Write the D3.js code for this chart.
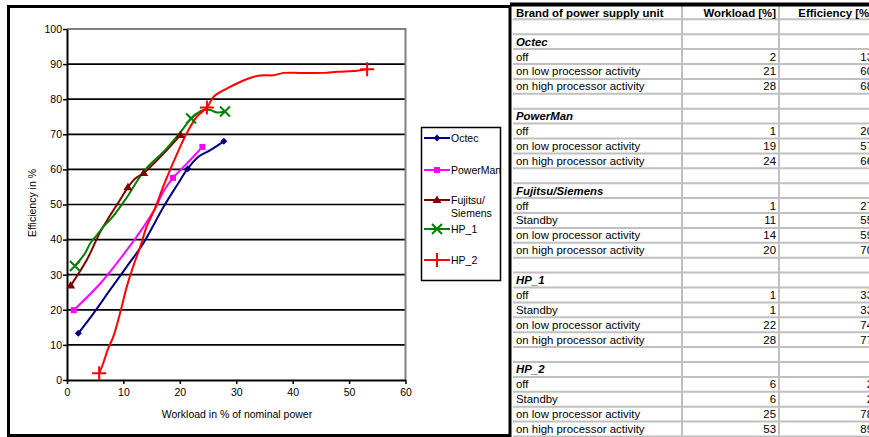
<!DOCTYPE html>
<html><head><meta charset="utf-8">
<script src="https://cdn.jsdelivr.net/npm/d3@7"></script>
<style>body{margin:0;background:#fff;overflow:hidden} svg{display:block} text{font-family:"Liberation Sans",Arial,sans-serif}</style>
</head><body><svg id="c" width="869" height="437"></svg>
<script>
// ---- chart data ----
const seriesNames = ["Octec","PowerMan","Fujitsu/Siemens","HP_1","HP_2"];
const seriesColors = ["#000080","#ff00ff","#800000","#008000","#ff0000"];
const markerShapes = ["diamond","square","triangle","x","plus"];
const octecMarkers = [[2,13.3],[21.4,60.2],[27.8,68]];
const octecTrace = [[2,13.3],[4.7,19],[7.6,25.6],[10.6,32.3],[13.5,38.9],[17.1,49.3],[19.5,55.5],[21.4,60.2],[23.3,63.6],[25.4,65.5],[27.8,68]];
const powerManMarkers = [[1.2,19.9],[18.8,57.6],[24,66.4]];
const powerManTrace = [[1.2,19.9],[5.9,27.5],[10.6,37],[13.5,43.5],[15.5,48.5],[17.2,54],[18.8,57.6],[20.1,59.8],[22.4,63.6],[24,66.4]];
const fujitsuMarkers = [[0.65,26.9],[10.8,54.9],[13.6,59],[20.1,69.8]];
const fujitsuTrace = [[0.65,26.9],[3.5,34.2],[5.9,42.2],[7.5,46.5],[9.2,50.8],[10.8,54.9],[12.1,57.4],[13.6,59],[17.1,64.5],[20.1,69.8]];
const hp1Markers = [[1.4,32.5],[22,74.5],[28,76.5]];
const hp1Trace = [[1.4,32.5],[3.2,36.1],[4.1,38.9],[5.3,41.3],[6.7,44.1],[8.2,46.7],[10.3,51.3],[13.8,59.8],[17.4,65.5],[19.9,70.2],[22,74.5],[23,75.9],[24.2,76.9],[25.4,76.9],[26.6,76.2],[28,76.5]];
const hp2Markers = [[5.7,1.9],[24.8,77.6],[53.2,88.5]];
const hp2Trace = [[5.7,1.9],[6.4,4.7],[7.3,9],[8.2,12.3],[9.4,19],[10.6,26.6],[11.8,32.7],[13,38],[14.1,43.6],[15.6,48.9],[17.4,56.5],[19.8,65.5],[21.2,70.2],[23,75],[24.8,77.6],[26,80.7],[28.4,83.1],[30.7,84.9],[33.1,86.4],[34.8,86.8],[36.6,86.8],[38.4,87.5],[41.4,87.5],[45.5,87.5],[47.9,87.8],[51.4,88.1],[53.2,88.5]];
const xTicks = [0,10,20,30,40,50,60];
const yTicks = [0,10,20,30,40,50,60,70,80,90,100];
const xTitle = "Workload in % of nominal power";
const yTitle = "Efficiency in %";

// ---- table data ----
const tableHeaders = ["Brand of power supply unit","Workload [%]","Efficiency [%]"];
const tableLabels = ["","Octec","off","on low processor activity","on high processor activity","",
  "PowerMan","off","on low processor activity","on high processor activity","",
  "Fujitsu/Siemens","off","Standby","on low processor activity","on high processor activity","",
  "HP_1","off","Standby","on low processor activity","on high processor activity","",
  "HP_2","off","Standby","on low processor activity","on high processor activity"];
const tableWorkload = [null,null,2,21,28,null,null,1,19,24,null,null,1,11,14,20,null,null,1,1,22,28,null,null,6,6,25,53];
const tableEfficiency = [null,null,13,60,68,null,null,20,57,66,null,null,27,55,59,70,null,null,33,33,74,77,null,null,2,2,78,89];

const traces = [octecTrace,powerManTrace,fujitsuTrace,hp1Trace,hp2Trace];
const markers = [octecMarkers,powerManMarkers,fujitsuMarkers,hp1Markers,hp2Markers];

const svg = d3.select("#c");
svg.append("rect").attr("width",869).attr("height",437).attr("fill","#fff");

// ---- chart ----
const x = d3.scaleLinear().domain([0,60]).range([67,405.5]);
const y = d3.scaleLinear().domain([0,100]).range([380,29]);
const chartFont = 10.5;

const g = svg.append("g");
g.selectAll(".grid").data(yTicks.filter(d=>d>0 && d<100)).join("line")
  .attr("x1",x(0)).attr("x2",x(60)).attr("y1",d=>y(d)).attr("y2",d=>y(d))
  .attr("stroke","#000").attr("stroke-width",1.7);
g.append("path").attr("d",`M${x(0)},${y(100)}H${x(60)}V${y(0)}`)
  .attr("fill","none").attr("stroke","#808080").attr("stroke-width",2);

const xAxis = d3.axisBottom(x).tickValues(xTicks).tickSize(4).tickSizeOuter(0);
const yAxis = d3.axisLeft(y).tickValues(yTicks).tickSize(4).tickSizeOuter(0);
const gx = g.append("g").attr("transform",`translate(0,${y(0)})`).call(xAxis);
const gy = g.append("g").attr("transform",`translate(${x(0)},0)`).call(yAxis);
[gx,gy].forEach(a=>{
  a.select(".domain").attr("stroke","#000").attr("stroke-width",2);
  a.selectAll(".tick line").attr("stroke","#000").attr("stroke-width",1.5);
  a.selectAll(".tick text").attr("font-family","Liberation Sans, Arial, sans-serif").attr("font-size",chartFont).attr("fill","#000");
});
gx.selectAll(".tick text").attr("dy","0.71em").attr("y",9);
gy.selectAll(".tick text").attr("x",-5);

g.append("text").attr("x",237).attr("y",418).attr("text-anchor","middle").attr("font-size",chartFont).text(xTitle);
g.append("text").attr("transform","translate(36,203) rotate(-90)").attr("text-anchor","middle").attr("font-size",chartFont).text(yTitle);

const line = d3.line().x(d=>x(d[0])).y(d=>y(d[1])).curve(d3.curveCatmullRom.alpha(0.5));
traces.forEach((t,i)=>{
  g.append("path").attr("d",line(t)).attr("fill","none").attr("stroke",seriesColors[i]).attr("stroke-width",2);
});

function drawMarker(sel, shape, color, cx, cy){
  if(shape==="diamond"){
    sel.append("path").attr("d",`M${cx},${cy-3.5}L${cx+3.5},${cy}L${cx},${cy+3.5}L${cx-3.5},${cy}Z`).attr("fill",color);
  } else if(shape==="square"){
    sel.append("rect").attr("x",cx-3).attr("y",cy-3).attr("width",6).attr("height",6).attr("fill",color);
  } else if(shape==="triangle"){
    sel.append("path").attr("d",`M${cx},${cy-4.5}L${cx+4.5},${cy+3}L${cx-4.5},${cy+3}Z`).attr("fill",color);
  } else if(shape==="x"){
    sel.append("path").attr("d",`M${cx-5},${cy-5}L${cx+5},${cy+5}M${cx-5},${cy+5}L${cx+5},${cy-5}`).attr("stroke",color).attr("stroke-width",2);
  } else if(shape==="plus"){
    sel.append("path").attr("d",`M${cx-7},${cy}H${cx+7}M${cx},${cy-7}V${cy+7}`).attr("stroke",color).attr("stroke-width",2);
  }
}
markers.forEach((ms,i)=>{
  ms.forEach(p=>drawMarker(g, markerShapes[i], seriesColors[i], x(p[0]), y(p[1])));
});

// legend
const lg = svg.append("g");
lg.append("rect").attr("x",421.5).attr("y",127.5).attr("width",79).attr("height",153)
  .attr("fill","#fff").attr("stroke","#000").attr("stroke-width",1.5);
const legendY = [138,170,200,229,260];
seriesNames.forEach((n,i)=>{
  const ly = legendY[i];
  lg.append("line").attr("x1",424).attr("x2",450).attr("y1",ly).attr("y2",ly).attr("stroke",seriesColors[i]).attr("stroke-width",2);
  drawMarker(lg, markerShapes[i], seriesColors[i], 437, ly);
  if(n.includes("/")){
    const parts = n.split("/");
    lg.append("text").attr("x",451).attr("y",ly+4).attr("font-size",chartFont).text(parts[0]+"/");
    lg.append("text").attr("x",451).attr("y",ly+17).attr("font-size",chartFont).text(parts[1]);
  } else {
    lg.append("text").attr("x",451).attr("y",ly+4).attr("font-size",chartFont).text(n);
  }
});

// chart frame
svg.append("rect").attr("x",8.5).attr("y",6.5).attr("width",501.5).attr("height",429)
  .attr("fill","none").attr("stroke","#000").attr("stroke-width",3);

// ---- table ----
const tableFont = 11.4;
const tg = svg.append("g");
const rowTop = i => i===0 ? 6 : 19.3 + (i-1)*14.9;
const nRows = tableLabels.length + 1;
d3.range(1,nRows+1).forEach(i=>{
  tg.append("line").attr("x1",513).attr("x2",869).attr("y1",rowTop(i)).attr("y2",rowTop(i))
    .attr("stroke","#c0c0c0").attr("stroke-width",2);
});
[682,779].forEach(cx=>{
  tg.append("line").attr("x1",cx).attr("x2",cx).attr("y1",6).attr("y2",437).attr("stroke","#c0c0c0").attr("stroke-width",2);
});
const hy = (rowTop(0)+rowTop(1))/2 + 4;
tg.append("text").attr("x",516).attr("y",hy).attr("font-size",tableFont).attr("font-weight","bold").text(tableHeaders[0]);
tg.append("text").attr("x",776).attr("y",hy).attr("font-size",tableFont).attr("font-weight","bold").attr("text-anchor","end").text(tableHeaders[1]);
tg.append("text").attr("x",873).attr("y",hy).attr("font-size",tableFont).attr("font-weight","bold").attr("text-anchor","end").text(tableHeaders[2]);
tableLabels.forEach((lab,k)=>{
  const i = k+1;
  const cy = (rowTop(i)+rowTop(i+1))/2 + 4;
  const isGroup = seriesNames.includes(lab);
  if(lab) tg.append("text").attr("x",516).attr("y",cy).attr("font-size",tableFont)
    .attr("font-weight",isGroup?"bold":"normal").attr("font-style",isGroup?"italic":"normal").text(lab);
  if(tableWorkload[k]!==null) tg.append("text").attr("x",776).attr("y",cy).attr("font-size",tableFont).attr("text-anchor","end").text(tableWorkload[k]);
  if(tableEfficiency[k]!==null) tg.append("text").attr("x",873).attr("y",cy).attr("font-size",tableFont).attr("text-anchor","end").text(tableEfficiency[k]);
});
svg.append("line").attr("x1",510).attr("x2",869).attr("y1",4.5).attr("y2",4.5).attr("stroke","#000").attr("stroke-width",4);
</script></body></html>
